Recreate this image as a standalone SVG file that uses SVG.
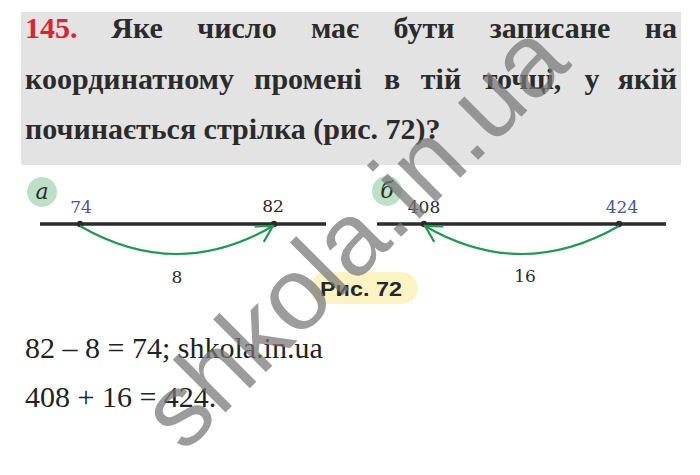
<svg xmlns="http://www.w3.org/2000/svg" width="700" height="475" viewBox="0 0 700 475">
<defs>
<style>
.t{font-family:"Liberation Serif","Times New Roman",serif;font-weight:bold;font-size:30px;fill:#2b2b2b}
.m{text-anchor:middle}
.e{text-anchor:end}
.num{font-family:"DejaVu Serif",serif;font-size:17px;fill:#2b2b2b;text-anchor:middle}
.blue{fill:#4b53a3}
.lbl{font-family:"DejaVu Serif",serif;font-style:italic;font-size:22px;fill:#2b2b2b;text-anchor:middle}
.axis{stroke:#2b2b2b;stroke-width:3.5;fill:none}
.dot{fill:#2b2b2b}
.arc{stroke:#1f9a52;stroke-width:2.2;fill:none;marker-end:url(#chev)}
.ans{font-family:"Liberation Serif","Times New Roman",serif;font-size:30px;fill:#222}
</style>
<marker id="chev" viewBox="0 0 20 20" refX="18" refY="10" markerWidth="20" markerHeight="20" markerUnits="userSpaceOnUse" orient="auto">
<path d="M2,1 L18,10 L2,19" fill="none" stroke="#1f9a52" stroke-width="2.2"/>
</marker>
</defs>
<rect width="700" height="475" fill="#ffffff"/>
<g id="task">
<rect x="21" y="12" width="660" height="153" fill="#e3e3e3"/>
<text class="t" x="25" y="38" style="fill:#d9262c">145.</text>
<text class="t m" x="137" y="38">Яке</text>
<text class="t m" x="237" y="38">число</text>
<text class="t m" x="335" y="38">має</text>
<text class="t m" x="424" y="38">бути</text>
<text class="t m" x="550" y="38">записане</text>
<text class="t e" x="677" y="38">на</text>
<text class="t" x="25" y="89">координатному</text>
<text class="t m" x="308" y="89">промені</text>
<text class="t m" x="392" y="89">в</text>
<text class="t m" x="441" y="89">тій</text>
<text class="t m" x="522" y="89">точці,</text>
<text class="t m" x="592" y="89">у</text>
<text class="t e" x="677" y="89">якій</text>
<text class="t" x="25" y="139">починається стрілка (рис. 72)?</text>
</g>
<g id="ray-a">
<circle cx="42" cy="192" r="15" fill="#bde0c6"/>
<text class="lbl" x="42" y="199">а</text>
<line class="axis" x1="40" y1="224" x2="326" y2="224"/>
<circle class="dot" cx="80" cy="224" r="3.2"/>
<circle class="dot" cx="274" cy="224" r="3.2"/>
<text class="num blue" x="81" y="213">74</text>
<text class="num" x="273" y="212">82</text>
<text class="num" x="177" y="283">8</text>
</g>
<g id="ray-b">
<circle cx="387" cy="191" r="15" fill="#bde0c6"/>
<text class="lbl" x="387" y="198">б</text>
<line class="axis" x1="377" y1="224" x2="666" y2="224"/>
<circle class="dot" cx="424" cy="224" r="3.2"/>
<circle class="dot" cx="619" cy="224" r="3.2"/>
<text class="num" x="424" y="213">408</text>
<text class="num blue" x="622" y="213">424</text>
<text class="num" x="525" y="282">16</text>
</g>
<g id="connectors">
<path class="arc" d="M80,226 Q177,282 273,226"/>
<path class="arc" d="M619,226 Q521,282 425,226"/>
</g>
<g id="caption">
<rect x="310" y="272" width="108" height="32" rx="16" fill="#fbf4c2"/>
<text x="320" y="296" textLength="82" lengthAdjust="spacingAndGlyphs" style="font-family:'Liberation Sans',Arial,sans-serif;font-weight:bold;font-size:21px;fill:#262626">Рис. 72</text>
</g>
<g id="answer">
<text class="ans" x="25" y="358">82 – 8 = 74; shkola.in.ua</text>
<text class="ans" x="25" y="407">408 + 16 = 424.</text>
</g>
<g id="watermark">
<text x="184" y="454" transform="rotate(-45 184 454)" style="font-family:'Liberation Sans',Arial,sans-serif;font-size:103px;fill:#777777;opacity:0.72">shkola.in.ua</text>
</g>
</svg>
